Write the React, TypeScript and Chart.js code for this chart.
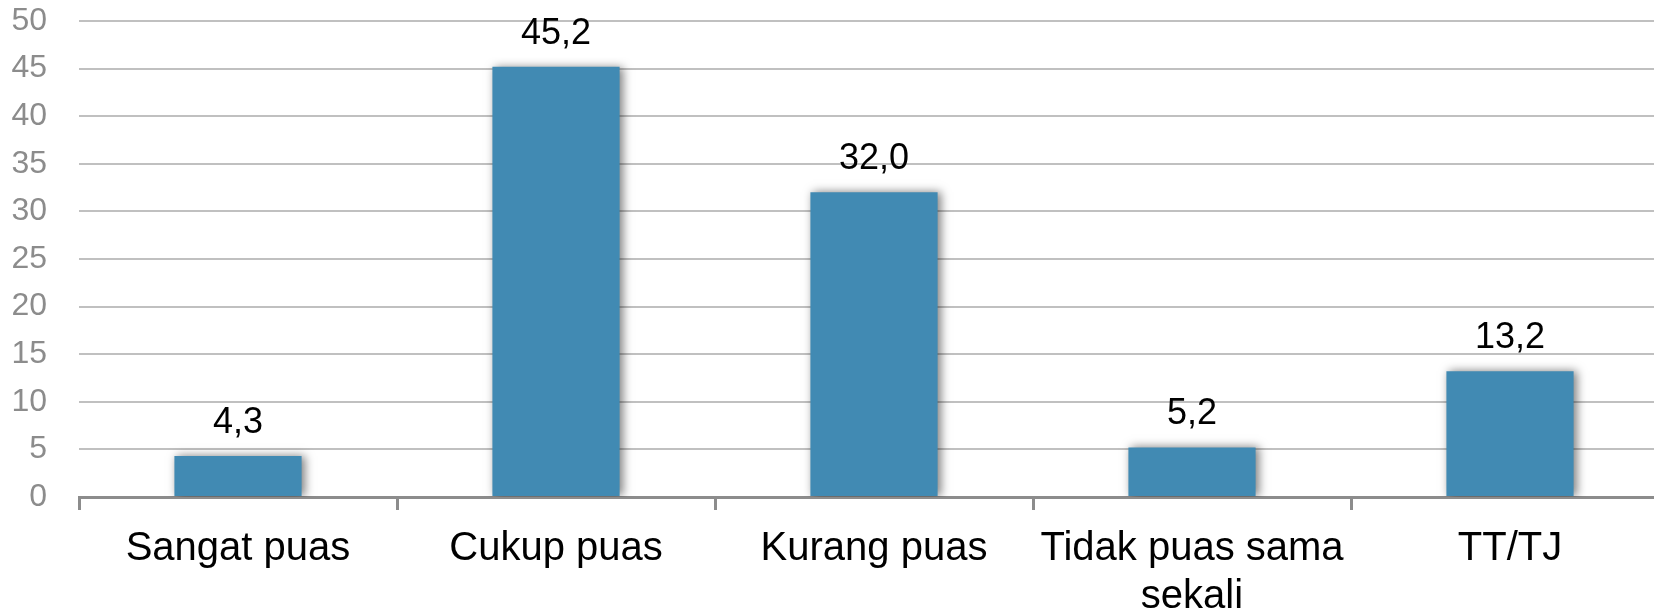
import React, { useEffect, useRef } from "react";
import { Chart, registerables } from "chart.js";

Chart.register(...registerables);

const categories: (string | string[])[] = [
  "Sangat puas",
  "Cukup puas",
  "Kurang puas",
  ["Tidak puas sama", "sekali"],
  "TT/TJ",
];
const values: number[] = [4.3, 45.2, 32.0, 5.2, 13.2];
const yTicks: number[] = [0, 5, 10, 15, 20, 25, 30, 35, 40, 45, 50];

const FONT = "'Liberation Sans', Arial, sans-serif";

export default function App() {
  const ref = useRef<HTMLCanvasElement | null>(null);

  useEffect(() => {
    if (!ref.current) return;
    const shadowAndLabels = {
      id: "shadowAndLabels",
      beforeDatasetsDraw(chart: any) {
        const ctx = chart.ctx;
        ctx.save();
        ctx.shadowColor = "rgba(0,0,0,0.5)";
        ctx.shadowBlur = 9;
        ctx.shadowOffsetX = 3;
        ctx.shadowOffsetY = 0;
      },
      afterDatasetsDraw(chart: any) {
        const ctx = chart.ctx;
        ctx.restore();
        const meta = chart.getDatasetMeta(0);
        ctx.save();
        ctx.font = `36px ${FONT}`;
        ctx.fillStyle = "#000000";
        ctx.textAlign = "center";
        ctx.textBaseline = "alphabetic";
        meta.data.forEach((bar: any, i: number) => {
          const v = chart.data.datasets[0].data[i] as number;
          ctx.fillText(v.toFixed(1).replace(".", ","), bar.x, bar.y - 23);
        });
        ctx.restore();
      },
    };

    const chart = new Chart(ref.current, {
      type: "bar",
      data: {
        labels: categories,
        datasets: [
          {
            data: values,
            backgroundColor: "#418AB3",
            borderWidth: 0,
            categoryPercentage: 0.8,
            barPercentage: 0.5,
          },
        ],
      },
      options: {
        responsive: false,
        animation: false,
        devicePixelRatio: 1,
        layout: { padding: { top: 21, right: 0, bottom: 0, left: 0 } },
        plugins: {
          legend: { display: false },
          tooltip: { enabled: false },
        },
        scales: {
          x: {
            offset: true,
            grid: {
              drawOnChartArea: false,
              drawTicks: true,
              tickLength: 13,
              color: "#8c8c8c",
              lineWidth: 3,
              offset: true,
            },
            border: { display: true, color: "#8c8c8c", width: 3 },
            ticks: {
              color: "#000000",
              font: { family: FONT, size: 40, lineHeight: 1.2 },
              padding: 15,
              maxRotation: 0,
              autoSkip: false,
            },
            afterFit(scale: any) {
              scale.height = 113;
              scale.paddingLeft = 0;
              scale.paddingRight = 0;
            },
          },
          y: {
            min: 0,
            max: 50,
            afterBuildTicks(scale: any) {
              scale.ticks = yTicks.map((v) => ({ value: v }));
            },
            grid: {
              color: "#c0c0c0",
              lineWidth: 2,
              drawTicks: false,
            },
            border: { display: false },
            ticks: {
              color: "#8c8c8c",
              font: { family: FONT, size: 32 },
              padding: 32,
            },
            afterFit(scale: any) {
              scale.width = 79;
              scale.paddingTop = 0;
              scale.paddingBottom = 0;
            },
          },
        },
      },
      plugins: [shadowAndLabels],
    });
    return () => chart.destroy();
  }, []);

  return (
    <div
      style={{
        position: "fixed",
        left: 0,
        top: 0,
        width: 1654,
        height: 610,
        overflow: "hidden",
        background: "#ffffff",
      }}
    >
      <canvas ref={ref} width={1669} height={610} style={{ display: "block" }} />
    </div>
  );
}
